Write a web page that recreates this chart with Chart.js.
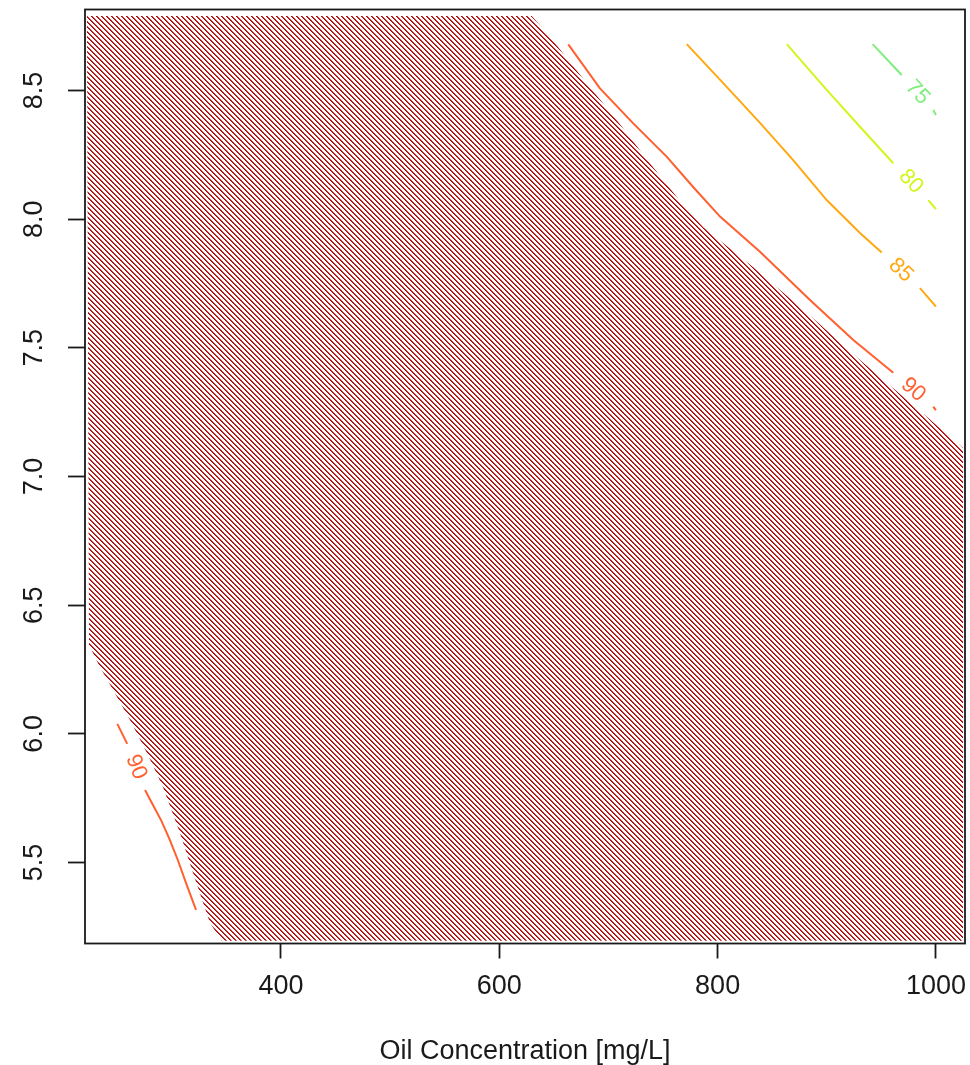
<!DOCTYPE html>
<html>
<head>
<meta charset="utf-8">
<script src="https://cdn.jsdelivr.net/npm/chart.js@4.4.1/dist/chart.umd.min.js"></script>
<style>
  html, body { margin: 0; background: #fff; }
  #wrap { width: 970px; height: 1065px; position: relative; }
</style>
</head>
<body>
<div id="wrap"><canvas id="contour"></canvas></div>
<script>
// axis ticks
const xTicks = [400, 600, 800, 1000];
const yTicks = [5.5, 6.0, 6.5, 7.0, 7.5, 8.0, 8.5];

// contour lines (oil conc, pH); null leaves the gap where the level label goes
const c75x = [942.0, 968.6, null, 997.5, 1000];
const c75y = [8.68, 8.56, null, 8.424, 8.405];

const c80x = [863.3, 899.9, 930.4, 960.9, null, 993.0, 1000];
const c80y = [8.68, 8.502, 8.359, 8.217, null, 8.074, 8.039];

const c85x = [771.7, 808.3, 838.8, 869.0, 899.9, 930.4, 950.3, null, 985.4, 1000];
const c85y = [8.68, 8.514, 8.374, 8.230, 8.074, 7.946, 7.870, null, 7.732, 7.660];

const c90x = [663.2, 692.2, 722.7, 753.3, 778.6, 802.2, 838.8, 884.6, 924.3, 960.9, null, 997.5, 1000];
const c90y = [8.679, 8.508, 8.372, 8.243, 8.120, 8.010, 7.873, 7.686, 7.530, 7.403, null, 7.271, 7.258];

const c90bx = [250.1, 259.2, null, 275.5, 283.0, 290.5, 298.0, 305.5, 313.5, 322.2];
const c90by = [6.039, 5.961, null, 5.782, 5.722, 5.662, 5.590, 5.510, 5.415, 5.316];

// hatched region outline
const hatchX = [222.3, 629.7, 646.4, 680.1, 707.5, 738.0, 765.5, 786.6, 832.4, 881.9, 930.4, 991.8, 1024.8,
                1024.8, 345.7, 335.0, 319.4, 307.5, 291.9, 277.3, 261.7, 246.1, 234.2, 224.2];
const hatchY = [8.789, 8.789, 8.709, 8.528, 8.385, 8.217, 8.070, 7.969, 7.814, 7.635, 7.453, 7.231, 7.111,
                5.196, 5.196, 5.265, 5.460, 5.615, 5.794, 5.926, 6.054, 6.171, 6.260, 6.345];

const FONT = "'Liberation Sans', Arial, sans-serif";

function pts(xs, ys) {
  return xs.map((x, i) => ({ x: x, y: ys[i] }));
}

// diagonal "\" line pattern, 5px apart
function hatchPattern(color) {
  const c = document.createElement('canvas');
  c.width = 5; c.height = 5;
  const g = c.getContext('2d');
  g.fillStyle = color;
  for (let i = 0; i < 5; i++) g.fillRect(i, i, 1, 1);
  g.globalAlpha = 0.75;
  for (let i = 0; i < 5; i++) g.fillRect((i + 1) % 5, i, 1, 1);
  return g.createPattern(c, 'repeat');
}

function contourSet(level, xs, ys, color) {
  return {
    label: String(level),
    level: level,
    data: pts(xs, ys),
    showLine: true,
    spanGaps: false,
    borderColor: color,
    borderWidth: 2,
    pointRadius: 0,
    fill: false
  };
}

// box around the plot region
const framePlugin = {
  id: 'frame',
  afterDatasetsDraw(chart) {
    const { ctx, chartArea: a } = chart;
    ctx.save();
    ctx.strokeStyle = '#1a1a1a';
    ctx.lineWidth = 1.8;
    ctx.strokeRect(a.left, a.top, a.right - a.left, a.bottom - a.top);
    ctx.restore();
  }
};

// level labels, centred in each gap and turned along the line
const levelLabels = {
  id: 'levelLabels',
  afterDatasetsDraw(chart) {
    const { ctx, scales: { x, y } } = chart;
    chart.data.datasets.forEach(ds => {
      if (ds.level === undefined) return;
      const d = ds.data;
      const gap = d.findIndex(p => p.x === null);
      if (gap < 1) return;
      const a = d[gap - 1], b = d[gap + 1];
      const ax = x.getPixelForValue(a.x), ay = y.getPixelForValue(a.y);
      const bx = x.getPixelForValue(b.x), by = y.getPixelForValue(b.y);
      let ang = Math.atan2(by - ay, bx - ax);
      if (ang > Math.PI / 2) ang -= Math.PI;
      if (ang < -Math.PI / 2) ang += Math.PI;
      ctx.save();
      ctx.translate((ax + bx) / 2, (ay + by) / 2);
      ctx.rotate(ang);
      ctx.font = '22px ' + FONT;
      ctx.fillStyle = ds.borderColor;
      ctx.textAlign = 'center';
      ctx.textBaseline = 'middle';
      ctx.fillText(String(ds.level), 0, 0);
      ctx.restore();
    });
  }
};

new Chart(document.getElementById('contour'), {
  type: 'scatter',
  data: {
    datasets: [
      contourSet(75, c75x, c75y, '#7fee7f'),
      contourSet(80, c80x, c80y, '#d4f51c'),
      contourSet(85, c85x, c85y, '#ffa812'),
      contourSet(90, c90x, c90y, '#ff6030'),
      contourSet(90, c90bx, c90by, '#ff6030'),
      {
        label: 'region',
        data: pts(hatchX, hatchY),
        showLine: true,
        borderWidth: 0,
        borderColor: 'rgba(0,0,0,0)',
        backgroundColor: hatchPattern('#b00000'),
        pointRadius: 0,
        fill: 'shape'
      }
    ]
  },
  options: {
    responsive: true,
    maintainAspectRatio: false,
    animation: false,
    layout: { padding: { top: 9.5, right: 5, left: 0, bottom: 0 } },
    plugins: {
      legend: { display: false },
      tooltip: { enabled: false }
    },
    scales: {
      x: {
        type: 'linear',
        min: 220.5,
        max: 1026.6,
        afterBuildTicks: s => { s.ticks = xTicks.map(v => ({ value: v })); },
        afterFit: s => { s.height = 121.5; s.paddingLeft = 0; s.paddingRight = 0; },
        grid: { drawOnChartArea: false, tickLength: 15, tickColor: '#1a1a1a', tickWidth: 1.8 },
        border: { display: false },
        ticks: {
          color: '#1a1a1a', padding: 12, maxRotation: 0, autoSkip: false,
          font: { family: FONT, size: 27 },
          callback: v => String(v)
        },
        title: {
          display: true,
          text: 'Oil Concentration [mg/L]',
          color: '#1a1a1a',
          font: { family: FONT, size: 27 },
          padding: { top: 0, bottom: -3 }
        }
      },
      y: {
        type: 'linear',
        min: 5.1855,
        max: 8.8145,
        afterBuildTicks: s => { s.ticks = yTicks.map(v => ({ value: v })); },
        afterFit: s => { s.width = 85; s.paddingTop = 0; s.paddingBottom = 0; },
        grid: { drawOnChartArea: false, tickLength: 17, tickColor: '#1a1a1a', tickWidth: 1.8 },
        border: { display: false },
        ticks: {
          color: '#1a1a1a', padding: 15, minRotation: 90, maxRotation: 90,
          crossAlign: 'center', autoSkip: false,
          font: { family: FONT, size: 27 },
          callback: v => v.toFixed(1)
        }
      }
    }
  },
  plugins: [framePlugin, levelLabels]
});
</script>
</body>
</html>
